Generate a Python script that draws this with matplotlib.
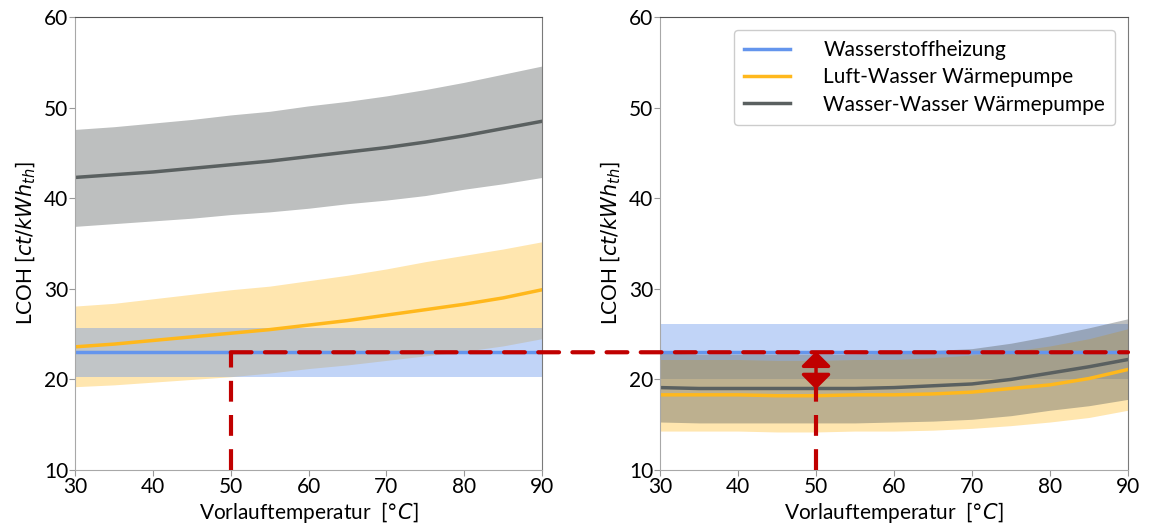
import matplotlib
matplotlib.use("Agg")
import matplotlib.pyplot as plt
from matplotlib.patches import ConnectionPatch

plt.rcParams['font.family'] = ['Lato', 'DejaVu Sans']
plt.rcParams['mathtext.fontset'] = 'dejavusans'

# Vorlauftemperatur [°C]
temps = [30, 35, 40, 45, 50, 55, 60, 65, 70, 75, 80, 85, 90]

# left panel
h2_left = [23.0] * 13
h2_left_lo = [20.3] * 13
h2_left_hi = [25.7] * 13
lw_left = [23.6, 23.9, 24.3, 24.7, 25.1, 25.5, 26.0, 26.5, 27.1, 27.7, 28.3, 29.0, 29.9]
lw_left_lo = [19.2, 19.4, 19.7, 20.0, 20.3, 20.7, 21.2, 21.6, 22.1, 22.6, 23.1, 23.7, 24.5]
lw_left_hi = [28.1, 28.4, 28.9, 29.4, 29.9, 30.3, 30.9, 31.5, 32.2, 33.0, 33.7, 34.4, 35.2]
ww_left = [42.3, 42.6, 42.9, 43.3, 43.7, 44.1, 44.6, 45.1, 45.6, 46.2, 46.9, 47.7, 48.5]
ww_left_lo = [36.9, 37.2, 37.5, 37.8, 38.2, 38.5, 38.9, 39.4, 39.8, 40.3, 41.0, 41.6, 42.3]
ww_left_hi = [47.6, 47.9, 48.3, 48.7, 49.2, 49.6, 50.2, 50.7, 51.3, 52.0, 52.8, 53.7, 54.6]

# right panel
h2_right = [23.0] * 13
h2_right_lo = [20.0] * 13
h2_right_hi = [26.1] * 13
lw_right = [18.3, 18.3, 18.3, 18.2, 18.2, 18.3, 18.3, 18.4, 18.6, 19.0, 19.4, 20.1, 21.1]
lw_right_lo = [14.3, 14.3, 14.3, 14.2, 14.2, 14.3, 14.3, 14.4, 14.6, 14.9, 15.3, 15.8, 16.6]
lw_right_hi = [22.2, 22.2, 22.2, 22.1, 22.1, 22.2, 22.2, 22.4, 22.7, 23.1, 23.7, 24.5, 25.6]
ww_right = [19.1, 19.0, 19.0, 19.0, 19.0, 19.0, 19.1, 19.3, 19.5, 20.0, 20.7, 21.4, 22.2]
ww_right_lo = [15.3, 15.2, 15.2, 15.2, 15.2, 15.2, 15.3, 15.4, 15.6, 16.0, 16.6, 17.1, 17.8]
ww_right_hi = [22.9, 22.8, 22.8, 22.8, 22.8, 22.8, 22.9, 23.2, 23.4, 24.0, 24.8, 25.7, 26.7]

labels = ['Wasserstoffheizung', 'Luft-Wasser Wärmepumpe', 'Wasser-Wasser Wärmepumpe']
blue = '#6495ED'
orange = '#FFB81C'
grey = '#5A6060'
red = '#C00000'

x_ticks = [30, 40, 50, 60, 70, 80, 90]
y_ticks = [10, 20, 30, 40, 50, 60]

fig = plt.figure(figsize=(11.6, 5.23), dpi=100)
ax1 = fig.add_axes([0.0647, 0.1013, 0.4026, 0.866])
ax2 = fig.add_axes([0.569, 0.1013, 0.4034, 0.866])

# left: grey, orange, then blue band on top
ax1.fill_between(temps, ww_left_lo, ww_left_hi, color=grey, alpha=0.4, lw=0)
ax1.fill_between(temps, lw_left_lo, lw_left_hi, color=orange, alpha=0.35, lw=0)
ax1.fill_between(temps, h2_left_lo, h2_left_hi, color=blue, alpha=0.4, lw=0)
ax1.plot(temps, h2_left, color=blue, lw=2.5, label=labels[0])
ax1.plot(temps, lw_left, color=orange, lw=2.5, label=labels[1])
ax1.plot(temps, ww_left, color=grey, lw=2.5, label=labels[2])

# right: blue band underneath
ax2.fill_between(temps, h2_right_lo, h2_right_hi, color=blue, alpha=0.4, lw=0)
ax2.fill_between(temps, lw_right_lo, lw_right_hi, color=orange, alpha=0.35, lw=0)
ax2.fill_between(temps, ww_right_lo, ww_right_hi, color=grey, alpha=0.4, lw=0)
ax2.plot(temps, h2_right, color=blue, lw=2.5, label=labels[0])
ax2.plot(temps, lw_right, color=orange, lw=2.5, label=labels[1])
ax2.plot(temps, ww_right, color=grey, lw=2.5, label=labels[2])

for ax in (ax1, ax2):
    ax.set_xlim(30, 90)
    ax.set_ylim(10, 60)
    ax.set_xticks(x_ticks)
    ax.set_yticks(y_ticks)
    ax.tick_params(labelsize=15, length=4, color='#999999', pad=1)
    ax.set_xlabel(r'Vorlauftemperatur  [$°C$]', fontsize=15, labelpad=2)
    ax.set_ylabel(r'LCOH [$ct/kWh_{th}$]', fontsize=15, labelpad=4)
    for s in ax.spines.values():
        s.set_color('#a8a8a8')
    ax.spines['right'].set_color('#7a7a7a')
    ax.spines['top'].set_color('#555555')

ax2.legend(loc='upper right', fontsize=15, handlelength=2.2, handletextpad=1.6,
           borderpad=0.5, labelspacing=0.35, borderaxespad=0.6, framealpha=1,
           edgecolor='#cccccc', fancybox=True)

# red markers
dash_kw = dict(color=red, lw=3, dashes=(5, 3.2), zorder=5)
ax1.plot([50, 50], [10, 23.0], solid_capstyle='butt', **dash_kw)
ax2.plot([50, 50], [10, 19.0], solid_capstyle='butt', **dash_kw)
con = ConnectionPatch(xyA=(50, 23.0), coordsA=ax1.transData,
                      xyB=(90, 23.0), coordsB=ax2.transData,
                      color=red, lw=3, linestyle=(0, (5, 3.2)), zorder=6)
fig.add_artist(con)
ax2.annotate('', xy=(50, 18.9), xytext=(50, 23.1),
             arrowprops=dict(arrowstyle='<|-|>,head_length=0.45,head_width=0.45',
                             color=red, lw=2.5, mutation_scale=20,
                             shrinkA=0, shrinkB=0),
             zorder=7)

fig.savefig('out.png', dpi=100)
